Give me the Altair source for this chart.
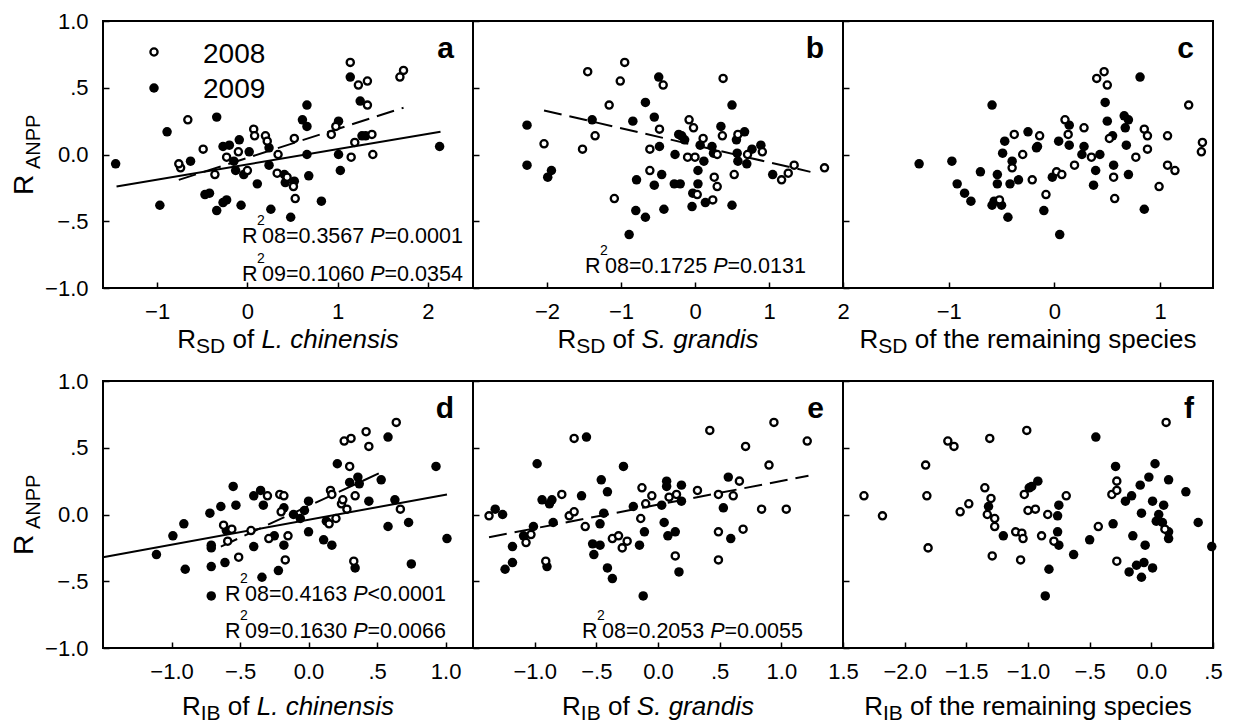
import altair as alt
import pandas as pd

FONT = "Liberation Sans"
W, H = 370, 267

# ---------------- data ----------------
# Panel a: R_SD of L. chinensis
a08_x = [-0.74, -0.76, -0.66, -0.49, -0.36, -0.23, -0.10, 0.00, 0.07, 0.08, 0.20, 0.22, 0.34, 0.33, 0.44, 0.51, 0.52, 0.53, 0.93, 0.98, 1.14, 1.15, 1.19, 1.23, 1.33, 1.33, 1.38, 1.39, 1.69, 1.73]
a08_y = [-0.10, -0.07, 0.26, 0.04, -0.15, -0.02, 0.02, -0.12, 0.19, 0.14, 0.14, 0.10, 0.00, -0.14, -0.17, -0.24, 0.12, -0.33, 0.15, 0.21, 0.69, -0.02, 0.09, 0.52, 0.55, 0.37, 0.15, 0.00, 0.58, 0.63]
a09_x = [-1.46, -0.97, -0.89, -0.63, -0.47, -0.42, -0.34, -0.34, -0.27, -0.23, -0.27, -0.20, -0.15, -0.13, -0.09, -0.07, -0.04, 0.02, 0.11, 0.24, 0.24, 0.26, 0.41, 0.42, 0.48, 0.52, 0.61, 0.66, 0.66, 0.66, 0.68, 0.82, 1.01, 1.01, 1.03, 1.14, 1.25, 1.27, 1.31, 2.13]
a09_y = [-0.07, -0.38, 0.17, -0.05, -0.30, -0.29, 0.28, -0.42, -0.36, -0.34, 0.06, 0.07, -0.05, -0.12, 0.11, -0.38, -0.15, 0.02, -0.22, 0.05, -0.08, -0.41, -0.15, -0.21, -0.47, -0.20, 0.26, 0.37, 0.21, 0.00, -0.16, -0.35, 0.25, 0.00, -0.12, 0.58, 0.40, 0.14, 0.14, 0.06]

# Panel b: R_SD of S. grandis
b08_x = [-2.04, -1.45, -1.52, -1.35, -1.16, -1.09, -1.01, -0.95, -0.61, -0.61, -0.48, -0.43, -0.08, -0.02, -0.10, 0.00, 0.11, 0.03, 0.24, 0.26, 0.30, 0.30, 0.37, 0.38, 0.53, 0.58, 0.71, 0.91, 1.17, 1.26, 1.34, 1.75]
b08_y = [0.08, 0.62, 0.04, 0.14, 0.37, -0.33, 0.55, 0.69, 0.04, -0.12, 0.19, 0.52, 0.26, 0.20, -0.02, -0.02, 0.12, -0.30, -0.34, -0.17, -0.24, 0.00, 0.14, 0.57, -0.15, 0.15, 0.00, 0.02, -0.19, -0.14, -0.08, -0.10]
b09_x = [-2.27, -2.27, -1.99, -1.94, -1.39, -0.84, -0.79, -0.80, -0.67, -0.67, -0.89, -0.55, -0.55, -0.49, -0.48, -0.45, -0.42, -0.27, -0.28, -0.20, -0.22, -0.18, -0.14, -0.04, -0.03, 0.04, 0.04, 0.07, 0.12, 0.14, 0.23, 0.25, 0.35, 0.50, 0.50, 0.56, 0.57, 0.58, 0.67, 0.70, 0.77, 0.89, 1.05]
b09_y = [0.22, -0.08, -0.17, -0.12, 0.26, 0.25, -0.19, -0.42, 0.39, -0.47, -0.60, 0.28, -0.23, 0.58, 0.06, -0.15, -0.41, 0.00, -0.22, -0.22, 0.15, 0.14, 0.11, -0.39, -0.29, -0.12, -0.22, 0.07, -0.05, -0.36, 0.06, 0.01, 0.21, -0.38, 0.37, 0.11, 0.01, -0.05, 0.17, -0.07, 0.04, 0.07, -0.15]

# Panel c: R_SD of the remaining species
c08_x = [-0.52, -0.40, -0.38, -0.30, -0.21, -0.14, -0.08, 0.02, 0.07, 0.10, 0.13, 0.19, 0.28, 0.35, 0.40, 0.47, 0.50, 0.52, 0.56, 0.57, 0.77, 0.85, 0.88, 0.88, 0.99, 1.07, 1.07, 1.14, 1.27, 1.39, 1.40]
c08_y = [-0.34, -0.10, 0.15, 0.00, -0.19, 0.14, -0.30, -0.13, -0.15, 0.26, 0.15, -0.08, 0.20, -0.02, 0.57, 0.62, 0.52, 0.12, -0.17, -0.33, -0.02, 0.19, 0.14, 0.04, -0.24, 0.14, -0.08, -0.12, 0.37, 0.02, 0.09]
c09_x = [-1.28, -0.97, -0.92, -0.85, -0.79, -0.70, -0.59, -0.59, -0.57, -0.54, -0.54, -0.50, -0.49, -0.47, -0.44, -0.40, -0.42, -0.34, -0.25, -0.17, -0.16, -0.10, -0.02, 0.05, 0.04, 0.14, 0.14, 0.28, 0.26, 0.37, 0.39, 0.43, 0.48, 0.50, 0.55, 0.56, 0.66, 0.67, 0.70, 0.68, 0.70, 0.81, 0.85]
c09_y = [-0.07, -0.05, -0.22, -0.29, -0.35, -0.13, 0.37, -0.38, -0.35, -0.15, -0.22, -0.38, 0.01, 0.10, -0.47, -0.05, -0.22, -0.19, 0.17, 0.05, 0.06, -0.42, -0.17, -0.60, 0.10, 0.22, 0.07, 0.06, 0.00, -0.23, -0.12, 0.00, 0.39, 0.25, 0.14, -0.08, 0.29, 0.20, 0.26, 0.07, -0.15, 0.58, -0.41]

# Panel d: R_IB of L. chinensis
d08_x = [-0.62, -0.59, -0.56, -0.51, -0.42, -0.30, -0.29, -0.21, -0.18, -0.20, -0.17, -0.15, 0.15, 0.16, 0.17, 0.20, 0.24, 0.25, 0.26, 0.30, 0.31, 0.28, 0.33, 0.34, 0.42, 0.44, 0.64, 0.67]
d08_y = [-0.08, -0.20, -0.11, -0.32, -0.12, 0.14, -0.18, 0.15, 0.14, 0.02, -0.34, -0.16, -0.07, 0.18, 0.15, -0.03, 0.08, 0.11, 0.55, 0.36, 0.57, 0.04, -0.35, 0.14, 0.62, 0.51, 0.69, 0.04]
d09_x = [-1.11, -0.99, -0.91, -0.90, -0.72, -0.71, -0.71, -0.71, -0.71, -0.64, -0.61, -0.55, -0.53, -0.60, -0.40, -0.40, -0.35, -0.33, -0.34, -0.25, -0.22, -0.18, -0.18, -0.11, -0.06, -0.03, 0.00, 0.00, 0.11, 0.17, 0.13, 0.21, 0.30, 0.36, 0.37, 0.34, 0.44, 0.53, 0.58, 0.58, 0.63, 0.73, 0.75, 0.93, 1.01]
d09_y = [-0.30, -0.16, -0.07, -0.41, 0.01, -0.23, -0.25, -0.39, -0.61, 0.06, -0.36, 0.21, 0.07, -0.12, 0.14, -0.24, 0.18, 0.07, -0.47, -0.16, -0.42, 0.05, -0.23, 0.00, -0.03, 0.03, 0.10, -0.13, -0.19, -0.23, -0.05, 0.38, 0.24, 0.28, 0.23, -0.40, 0.10, 0.26, -0.09, 0.58, 0.11, -0.06, -0.37, 0.36, -0.18]

# Panel e: R_IB of S. grandis
e08_x = [-1.37, -1.07, -1.03, -0.91, -0.78, -0.72, -0.68, -0.68, -0.59, -0.37, -0.32, -0.29, -0.25, -0.13, -0.14, -0.10, -0.05, 0.09, 0.15, 0.14, 0.32, 0.42, 0.49, 0.49, 0.49, 0.61, 0.66, 0.69, 0.71, 0.84, 0.90, 0.94, 1.04, 1.21]
e08_y = [-0.01, -0.21, -0.15, -0.35, 0.15, -0.01, 0.02, 0.57, -0.09, -0.18, -0.16, -0.25, -0.20, 0.20, -0.03, 0.08, 0.14, 0.13, 0.15, -0.31, 0.18, 0.63, 0.15, -0.13, -0.34, 0.14, 0.25, -0.11, 0.51, 0.04, 0.37, 0.69, 0.04, 0.55]
e09_x = [-1.32, -1.26, -1.24, -1.18, -1.18, -1.09, -1.01, -0.98, -0.94, -0.90, -0.88, -0.86, -0.85, -0.62, -0.58, -0.53, -0.52, -0.47, -0.47, -0.46, -0.44, -0.41, -0.41, -0.37, -0.28, -0.20, -0.15, -0.11, -0.12, 0.03, 0.05, 0.07, 0.07, 0.08, 0.14, 0.17, 0.19, 0.19, 0.53, 0.57, 0.59]
e09_y = [0.04, 0.00, -0.41, -0.24, -0.36, -0.16, -0.09, 0.38, 0.11, -0.39, 0.08, 0.11, -0.06, 0.14, 0.58, -0.22, -0.30, -0.23, -0.07, 0.26, 0.01, 0.17, -0.40, -0.48, 0.36, 0.06, -0.23, -0.13, -0.61, 0.07, -0.06, 0.25, 0.21, -0.16, -0.13, -0.43, 0.22, 0.10, 0.05, 0.28, -0.18]

# Panel f: R_IB of the remaining species
f08_x = [-2.33, -2.18, -1.83, -1.82, -1.81, -1.65, -1.60, -1.55, -1.48, -1.35, -1.33, -1.31, -1.30, -1.27, -1.27, -1.29, -1.10, -1.05, -1.04, -1.06, -1.03, -1.01, -1.00, -0.94, -0.89, -0.84, -0.79, -0.69, -0.43, -0.32, -0.28, -0.28, -0.28, 0.12, 0.11]
f08_y = [0.14, -0.01, 0.37, 0.14, -0.25, 0.55, 0.51, 0.02, 0.08, 0.20, 0.00, 0.57, 0.12, -0.03, -0.09, -0.31, -0.13, -0.14, -0.18, -0.34, 0.15, 0.63, 0.03, 0.04, -0.16, 0.00, -0.20, 0.14, -0.09, 0.15, 0.25, 0.18, -0.35, 0.69, -0.11]
f09_x = [-1.32, -1.20, -0.99, -0.97, -0.92, -0.83, -0.86, -0.76, -0.76, -0.75, -0.75, -0.63, -0.50, -0.45, -0.31, -0.29, -0.21, -0.18, -0.16, -0.15, -0.12, -0.09, -0.08, -0.08, -0.06, -0.05, -0.02, 0.01, 0.01, 0.03, 0.04, 0.06, 0.10, 0.09, 0.14, 0.14, 0.14, 0.28, 0.38, 0.49]
f09_y = [0.06, -0.16, 0.20, 0.21, 0.25, -0.41, -0.61, -0.01, -0.13, -0.23, 0.07, -0.30, -0.19, 0.58, -0.07, 0.36, 0.10, -0.43, 0.14, -0.16, -0.38, 0.22, 0.01, -0.47, -0.36, -0.23, 0.28, 0.10, -0.40, 0.38, -0.05, 0.00, 0.07, -0.06, 0.26, -0.13, -0.18, 0.17, -0.06, -0.24]

# regression lines (end points)
a_sol_x = [-1.45, 2.14]; a_sol_y = [-0.24, 0.17]
a_dash_x = [-0.76, 1.73]; a_dash_y = [-0.19, 0.35]
b_dash_x = [-2.04, 1.56]; b_dash_y = [0.33, -0.13]
d_sol_x = [-1.50, 1.01]; d_sol_y = [-0.32, 0.15]
d_dash_x = [-0.64, 0.56]; d_dash_y = [-0.24, 0.33]
e_dash_x = [-1.37, 1.22]; e_dash_y = [-0.17, 0.29]

# axis domains and ticks
a_dom = [-1.6, 2.5]; a_ticks = [-1, 0, 1, 2]
b_dom = [-3.0, 2.0]; b_ticks = [-2, -1, 0, 1, 2]
c_dom = [-2.0, 1.5]; c_ticks = [-1, 0, 1]
d_dom = [-1.5, 1.2]; d_ticks = [-1, -0.5, 0, 0.5, 1]
e_dom = [-1.5, 1.5]; e_ticks = [-1, -0.5, 0, 0.5, 1, 1.5]
f_dom = [-2.5, 0.5]; f_ticks = [-2, -1.5, -1, -0.5, 0, 0.5]
y_ticks = [-1, -0.5, 0, 0.5, 1]

# statistics text
a_stats = [("08", "0.3567", "=", "0.0001"), ("09", "0.1060", "=", "0.0354")]
b_stats = [("08", "0.1725", "=", "0.0131")]
d_stats = [("08", "0.4163", "<", "0.0001"), ("09", "0.1630", "=", "0.0066")]
e_stats = [("08", "0.2053", "=", "0.0055")]

# axis title pieces: (text, kind) kind n=normal, s=subscript, i=italic
a_title = [("R", "n"), ("SD", "s"), (" of ", "n"), ("L. chinensis", "i")]
b_title = [("R", "n"), ("SD", "s"), (" of ", "n"), ("S. grandis", "i")]
c_title = [("R", "n"), ("SD", "s"), (" of the remaining species", "n")]
d_title = [("R", "n"), ("IB", "s"), (" of ", "n"), ("L. chinensis", "i")]
e_title = [("R", "n"), ("IB", "s"), (" of ", "n"), ("S. grandis", "i")]
f_title = [("R", "n"), ("IB", "s"), (" of the remaining species", "n")]

legend_years = ["2008", "2009"]

# ---------------- helpers ----------------
CW = {' ': 278, '-': 333, '.': 278, '=': 584, '<': 584,
      'A': 667, 'B': 667, 'D': 722, 'I': 278, 'L': 556, 'N': 722, 'P': 667, 'R': 722, 'S': 667,
      'a': 556, 'c': 500, 'd': 556, 'e': 556, 'f': 278, 'g': 556, 'h': 556, 'i': 222, 'm': 833,
      'n': 556, 'o': 556, 'p': 556, 'r': 333, 's': 500, 't': 278}

OPEN_SIZE, OPEN_STROKE, FILL_SIZE = 52, 2.3, 90


def tw(s, size):
    return sum(CW.get(ch, 556) for ch in s) / 1000.0 * size


def px2x(dom, px):
    return dom[0] + px / W * (dom[1] - dom[0])


def px2y(py):
    return 1.0 - 2.0 * py / H


LBL = "datum.value == 0 ? '0.0' : replace(format(datum.value, '.1f'), '0.', '.')"


def xaxis(ticks, intfmt):
    kw = dict(values=ticks, title=None, domain=False, grid=False, tickSize=6, offset=-6,
              tickWidth=1.5, tickColor="black", labelFont=FONT, labelFontSize=22,
              labelColor="black", labelPadding=13, labelFlush=False, labelOverlap=False)
    if intfmt:
        kw["format"] = "d"
    else:
        kw["labelExpr"] = LBL
    return alt.Axis(**kw)


def yaxis(show):
    return alt.Axis(values=y_ticks, title=None, domain=False, grid=False, tickSize=6, offset=-6,
                    tickWidth=1.5, tickColor="black", labels=show, labelExpr=LBL, labelFont=FONT,
                    labelFontSize=22, labelColor="black", labelPadding=15, labelOverlap=False)


def panel(dom, ticks, intfmt, showy, x08, y08, x09, y09, lines, title, title_base,
          stats, stats_pos, letter, legend=False):
    X = alt.X("x:Q", scale=alt.Scale(domain=dom, nice=False, zero=False), axis=xaxis(ticks, intfmt))
    Y = alt.Y("y:Q", scale=alt.Scale(domain=[-1, 1], nice=False, zero=False), axis=yaxis(showy))
    layers = []
    for lx, ly, dashed in lines:
        kw = dict(color="black", strokeWidth=2)
        if dashed:
            kw["strokeDash"] = [18, 8]
        layers.append(alt.Chart(pd.DataFrame({"x": lx, "y": ly})).mark_line(**kw).encode(x=X, y=Y))
    layers.append(alt.Chart(pd.DataFrame({"x": x09, "y": y09})).mark_circle(
        color="black", size=FILL_SIZE, opacity=1).encode(x=X, y=Y))
    layers.append(alt.Chart(pd.DataFrame({"x": x08, "y": y08})).mark_point(
        shape="circle", filled=True, fill="white", stroke="black", strokeWidth=OPEN_STROKE,
        size=OPEN_SIZE, opacity=1).encode(x=X, y=Y))

    groups = {}

    def add(key, px, py, t):
        groups.setdefault(key, []).append((px2x(dom, px), px2y(py), t))

    # axis title
    sizes = {"n": 26, "i": 26, "s": 21}
    total = sum(tw(t, sizes[k]) for t, k in title)
    xx = (W - total) / 2.0
    for t, k in title:
        lead = len(t) - len(t.lstrip(" "))
        add("t" + k, xx + tw(" " * lead, sizes[k]), title_base + (5 if k == "s" else 0), t.strip())
        xx += tw(t, sizes[k])

    # statistics
    for (yr, r2, rel, pv), (x0, base) in zip(stats, stats_pos):
        add("sn", x0, base, "R")
        add("ss", x0 + 15, base - 18, "2")
        add("sn", x0 + 20, base, yr + "=" + r2)
        xp = x0 + 20 + tw(yr + "=" + r2 + " ", 21.5)
        add("si", xp, base, "P")
        add("sn", xp + tw("P", 21.5), base, rel + pv)

    # panel letter
    add("let", 351, 37, letter)

    # y title (R + subscript ANPP)
    if showy:
        add("yR", -70, 174, "R")
        add("yS", -63, 148, "ANPP")

    styles = {
        "tn": dict(fontSize=26), "ti": dict(fontSize=26, fontStyle="italic"), "ts": dict(fontSize=21),
        "sn": dict(fontSize=21.5), "si": dict(fontSize=21.5, fontStyle="italic"), "ss": dict(fontSize=14),
        "let": dict(fontSize=30, fontWeight="bold", align="right"),
        "yR": dict(fontSize=28, angle=270), "yS": dict(fontSize=20, angle=270),
        "leg": dict(fontSize=28),
    }
    if legend:
        add("leg", 100, 42, legend_years[0])
        add("leg", 100, 77, legend_years[1])
        lo = pd.DataFrame({"x": [px2x(dom, 51)], "y": [px2y(31)]})
        lf = pd.DataFrame({"x": [px2x(dom, 51)], "y": [px2y(67)]})
        layers.append(alt.Chart(lf).mark_circle(color="black", size=FILL_SIZE, opacity=1).encode(x=X, y=Y))
        layers.append(alt.Chart(lo).mark_point(shape="circle", filled=True, fill="white",
                                               stroke="black", strokeWidth=OPEN_STROKE,
                                               size=OPEN_SIZE, opacity=1).encode(x=X, y=Y))
    for key, rows in groups.items():
        st = dict(font=FONT, color="black", baseline="alphabetic", align="left")
        st.update(styles[key])
        df = pd.DataFrame({"x": [r[0] for r in rows], "y": [r[1] for r in rows], "t": [r[2] for r in rows]})
        layers.append(alt.Chart(df).mark_text(**st).encode(x=X, y=Y, text=alt.Text("t:N")))
    return alt.layer(*layers).properties(width=W, height=H)


pa = panel(a_dom, a_ticks, True, True, a08_x, a08_y, a09_x, a09_y,
           [(a_sol_x, a_sol_y, False), (a_dash_x, a_dash_y, True)], a_title, 327,
           a_stats, [(139, 222), (139, 260)], "a", legend=True)
pb = panel(b_dom, b_ticks, True, False, b08_x, b08_y, b09_x, b09_y,
           [(b_dash_x, b_dash_y, True)], b_title, 327, b_stats, [(112, 252)], "b")
pc = panel(c_dom, c_ticks, True, False, c08_x, c08_y, c09_x, c09_y,
           [], c_title, 327, [], [], "c")
pd_ = panel(d_dom, d_ticks, False, True, d08_x, d08_y, d09_x, d09_y,
            [(d_sol_x, d_sol_y, False), (d_dash_x, d_dash_y, True)], d_title, 334,
            d_stats, [(122, 220), (122, 257)], "d")
pe = panel(e_dom, e_ticks, False, False, e08_x, e08_y, e09_x, e09_y,
           [(e_dash_x, e_dash_y, True)], e_title, 334, e_stats, [(109, 257)], "e")
pf = panel(f_dom, f_ticks, False, False, f08_x, f08_y, f09_x, f09_y,
           [], f_title, 334, [], [], "f")

chart = alt.concat(pa, pb, pc, pd_, pe, pf, columns=3,
                   spacing={"row": 93, "column": 0}, bounds="flush").properties(
    padding={"left": 2, "top": 1, "right": 0, "bottom": 0}
).configure_view(stroke="black", strokeWidth=2)

chart.save("out.html", embed_options={"renderer": "svg", "actions": False})
